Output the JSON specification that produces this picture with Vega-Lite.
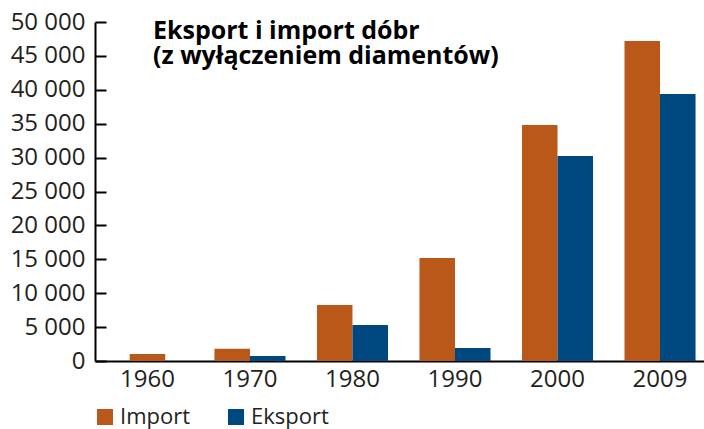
{
  "$schema": "https://vega.github.io/schema/vega-lite/v6.json",
  "autosize": "none",
  "width": 609,
  "height": 339,
  "padding": {"left": 95, "top": 22, "right": 0, "bottom": 68},
  "background": "white",
  "title": {
    "text": ["Eksport i import dóbr", "(z wyłączeniem diamentów)"],
    "anchor": "start",
    "frame": "group",
    "orient": "top",
    "offset": 0,
    "dx": 58,
    "dy": 59,
    "baseline": "top",
    "font": "Open Sans",
    "fontSize": 25,
    "fontWeight": "bold",
    "color": "#000000",
    "lineHeight": 25
  },
  "data": {
    "values": [
      {"year": "1960", "series": "Import", "value": 1030},
      {"year": "1970", "series": "Import", "value": 1800},
      {"year": "1970", "series": "Eksport", "value": 740},
      {"year": "1980", "series": "Import", "value": 8260},
      {"year": "1980", "series": "Eksport", "value": 5310},
      {"year": "1990", "series": "Import", "value": 15190},
      {"year": "1990", "series": "Eksport", "value": 1920},
      {"year": "2000", "series": "Import", "value": 34810},
      {"year": "2000", "series": "Eksport", "value": 30240},
      {"year": "2009", "series": "Import", "value": 47200},
      {"year": "2009", "series": "Eksport", "value": 39380}
    ]
  },
  "encoding": {
    "x": {
      "field": "year", "type": "ordinal",
      "sort": ["1960", "1970", "1980", "1990", "2000", "2009"],
      "scale": {"domain": ["1960", "1970", "1980", "1990", "2000", "2009"], "paddingInner": 0.307, "paddingOuter": 0.124, "align": 0.667},
      "axis": {"title": null, "ticks": false, "labelAngle": 0, "labelPadding": 6, "domainWidth": 2, "domainColor": "#000000", "labelFontSize": 24}
    },
    "y": {
      "field": "value", "type": "quantitative",
      "scale": {"domain": [0, 50000], "nice": false, "zero": true},
      "axis": {"title": null, "values": [0, 5000, 10000, 15000, 20000, 25000, 30000, 35000, 40000, 45000, 50000], "labelExpr": "replace(format(datum.value, ','), regexp(',', 'g'), ' ')", "labelOverlap": false, "labelFontSize": 24, "grid": false, "tickSize": -11, "tickWidth": 2, "tickColor": "#000000", "domainWidth": 2, "domainColor": "#000000", "labelPadding": 21}
    },
    "color": {
      "field": "series", "type": "nominal",
      "scale": {"domain": ["Import", "Eksport"], "range": ["#b95818", "#004880"]},
      "legend": {"title": null, "orient": "none", "legendX": -1, "legendY": 384, "direction": "horizontal", "symbolType": "square", "symbolSize": 256, "symbolStrokeWidth": 0, "symbolOpacity": 1, "labelOffset": 4, "columnPadding": 34, "padding": 0, "labelFont": "Open Sans", "labelFontSize": 22, "labelColor": "#231f20"}
    }
  },
  "layer": [
    {
      "transform": [{"filter": "datum.year != '1960'"}],
      "mark": {"type": "bar"},
      "encoding": {
        "xOffset": {"field": "series", "type": "nominal", "sort": ["Import", "Eksport"], "scale": {"domain": ["Import", "Eksport"], "paddingInner": 0, "paddingOuter": 0}}
      }
    },
    {
      "transform": [{"filter": "datum.year == '1960'"}],
      "mark": {"type": "bar", "width": {"band": 0.5}}
    }
  ],
  "config": {
    "view": {"stroke": null},
    "axis": {"labelFont": "Open Sans", "labelFontSize": 22, "labelColor": "#231f20"}
  }
}
